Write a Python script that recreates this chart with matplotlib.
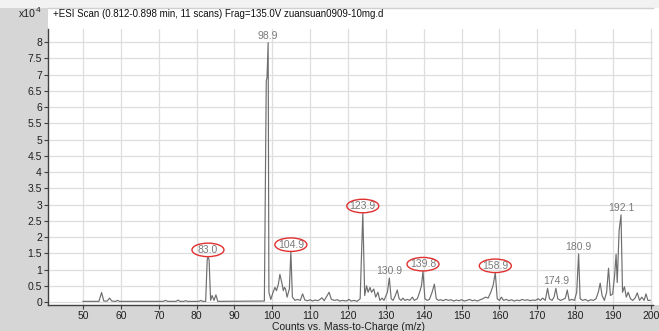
import numpy as np
import matplotlib
matplotlib.use('Agg')
import matplotlib.pyplot as plt
from matplotlib.patches import Ellipse, Rectangle
from matplotlib.transforms import ScaledTranslation

plt.rcParams['font.family'] = ['Liberation Sans', 'DejaVu Sans']

# profile spectrum, vertices of the trace (m/z, counts x10^4)
mz = [50.0, 54.2, 54.9, 55.5, 56.4, 57.0, 57.6, 58.6, 59.1, 59.6,
      71.2, 71.8, 72.4, 74.6, 75.1, 75.6, 76.6, 77.1, 77.6, 80.6, 81.1, 81.6,
      82.4, 82.8, 83.0, 83.3, 83.7, 84.1, 84.6, 85.1, 85.6,
      97.9, 98.4, 98.6, 98.9, 99.1, 99.6, 100.2, 100.7, 101.1, 101.6, 102.0,
      102.5, 102.9, 103.2, 103.5, 103.9, 104.5, 104.9, 105.3, 106.0, 106.6,
      107.4, 108.0, 108.6, 109.3, 110.0, 110.6, 111.3, 112.0, 112.6, 113.1,
      113.7, 114.4, 115.0, 115.6, 116.4, 117.2, 117.8, 118.6, 119.5, 120.3,
      120.8, 121.6, 122.4, 123.2, 123.9, 124.4, 124.9, 125.3, 125.8, 126.2,
      126.8, 127.3, 127.9, 128.4, 129.0, 129.5, 130.4, 130.9, 131.4, 131.9,
      132.5, 133.0, 133.5, 134.0, 134.5, 135.0, 135.7, 136.3, 137.0, 137.5,
      138.3, 138.9, 139.4, 139.8, 140.3, 140.9, 141.5, 142.2, 142.8, 143.3,
      143.9, 144.5, 145.1, 145.8, 146.5, 147.2, 147.9, 148.6, 149.3, 150.0,
      150.7, 151.4, 152.1, 152.8, 153.5, 154.2, 154.9, 155.6, 156.3, 157.0,
      157.7, 158.3, 158.9, 159.4, 160.0, 160.5, 161.1, 161.8, 162.5, 163.2,
      163.9, 164.6, 165.3, 166.0, 166.7, 167.4, 168.1, 168.8, 169.5, 170.2,
      170.8, 171.4, 172.1, 172.7, 173.2, 173.9, 174.4, 174.9, 175.4, 176.1,
      176.8, 177.4, 177.9, 178.4, 179.1, 179.8, 180.4, 180.9, 181.3, 182.0,
      182.7, 183.4, 184.1, 184.8, 185.5, 186.1, 186.6, 187.1, 187.7, 188.3,
      188.8, 189.3, 189.9, 190.4, 190.8, 191.1, 191.6, 192.1, 192.5, 193.0,
      193.5, 194.0, 194.6, 195.2, 195.8, 196.4, 197.0, 197.6, 198.2, 198.7,
      199.2, 199.8]
counts = [0.02, 0.02, 0.29, 0.03, 0.03, 0.12, 0.03, 0.02, 0.05, 0.02,
          0.02, 0.05, 0.02, 0.02, 0.06, 0.02, 0.02, 0.04, 0.02, 0.02, 0.05, 0.02,
          0.02, 1.30, 1.39, 1.30, 0.05, 0.20, 0.05, 0.22, 0.02,
          0.03, 6.80, 6.90, 7.98, 0.30, 0.08, 0.30, 0.45, 0.35, 0.55, 0.85,
          0.60, 0.35, 0.45, 0.40, 0.15, 0.40, 1.55, 0.15, 0.05, 0.08,
          0.05, 0.25, 0.06, 0.04, 0.07, 0.03, 0.06, 0.04, 0.08, 0.13,
          0.04, 0.18, 0.30, 0.08, 0.05, 0.07, 0.03, 0.05, 0.03, 0.08,
          0.03, 0.05, 0.02, 0.10, 2.74, 0.20, 0.50, 0.30, 0.45, 0.30,
          0.40, 0.15, 0.30, 0.05, 0.12, 0.05, 0.30, 0.74, 0.10, 0.05,
          0.20, 0.37, 0.10, 0.05, 0.12, 0.05, 0.08, 0.05, 0.15, 0.05,
          0.10, 0.30, 0.50, 0.95, 0.10, 0.05, 0.08, 0.30, 0.55, 0.10,
          0.05, 0.07, 0.04, 0.08, 0.05, 0.07, 0.03, 0.06, 0.04, 0.07,
          0.03, 0.05, 0.08, 0.04, 0.06, 0.03, 0.07, 0.10, 0.15, 0.12,
          0.30, 0.50, 0.90, 0.10, 0.05, 0.15, 0.05, 0.08, 0.04, 0.07,
          0.03, 0.06, 0.04, 0.08, 0.05, 0.07, 0.04, 0.06, 0.05, 0.10,
          0.05, 0.12, 0.05, 0.42, 0.10, 0.05, 0.15, 0.42, 0.10, 0.05,
          0.08, 0.12, 0.37, 0.05, 0.08, 0.05, 0.30, 1.48, 0.10, 0.05,
          0.08, 0.03, 0.07, 0.05, 0.10, 0.30, 0.58, 0.20, 0.05, 0.30,
          1.04, 0.20, 0.25, 0.80, 1.47, 0.60, 2.20, 2.68, 0.30, 0.47,
          0.15, 0.30, 0.10, 0.05, 0.12, 0.28, 0.05, 0.15, 0.05, 0.25,
          0.05, 0.05]

labels = [83.0, 98.9, 104.9, 123.9, 130.9, 139.8, 158.9, 174.9, 180.9, 192.1]
circled = [83.0, 104.9, 123.9, 139.8, 158.9]

title = '+ESI Scan (0.812-0.898 min, 11 scans) Frag=135.0V zuansuan0909-10mg.d'
xlabel = 'Counts vs. Mass-to-Charge (m/z)'

W, H = 659, 331
fig = plt.figure(figsize=(W / 100, H / 100), dpi=100, facecolor='#d6d6d6')

# white panel behind title and plot
fig.patches.append(Rectangle((48 / W, 1 - 305 / H), (W - 48) / W, (305 - 8) / H,
                             transform=fig.transFigure, facecolor='white',
                             edgecolor='none', zorder=-2))
fig.patches.append(Rectangle((0, 1 - 8 / H), 1, 8 / H, transform=fig.transFigure,
                             facecolor='#f2f2f2', edgecolor='none', zorder=-2))
fig.lines.append(plt.Line2D([48 / W, 653 / W], [1 - 8 / H, 1 - 8 / H],
                            transform=fig.transFigure, color='#d0d0d0', lw=1,
                            zorder=-1))

ax = fig.add_axes([47.5 / W, 26 / H, (653 - 47.5) / W, (305 - 29) / H])
ax.patch.set_alpha(0)
ax.set_xlim(40.62, 200.55)
ax.set_ylim(-0.092, 8.4)

ax.plot(mz, counts, color='#6e6e6e', lw=0.85, zorder=3)

ax.set_xticks(np.arange(50, 201, 10))
ax.set_yticks(np.arange(0, 8.01, 0.5))
ax.set_yticklabels(['%g' % v for v in np.arange(0, 8.01, 0.5)])
ax.grid(color='#dedede', lw=0.9, zorder=0)
ax.set_axisbelow(True)
for s in ['top', 'right']:
    ax.spines[s].set_visible(False)
for s in ['left', 'bottom']:
    ax.spines[s].set_color('#404040')
    ax.spines[s].set_linewidth(1.0)
ax.tick_params(length=3, width=0.8, color='#404040', labelsize=7.5,
               labelcolor='#202020', pad=1)

mz_arr = np.array(mz)
cnt_arr = np.array(counts)
for lab in labels:
    i = np.argmin(np.abs(mz_arr - lab))
    x, y = mz_arr[i], cnt_arr[i]
    ax.annotate('%.1f' % lab, (x, y), xytext=(0, 5), textcoords='offset points',
                ha='center', va='center', fontsize=7.5, color='#7a7a7a', zorder=4)
    if lab in circled:
        tr = fig.dpi_scale_trans + ScaledTranslation(x, y, ax.transData)
        ax.add_patch(Ellipse((0, 5 / 72), 0.32, 0.135, transform=tr, fill=False,
                             edgecolor='#e03030', lw=1.0, zorder=5, clip_on=False))

fig.text(19 / W, 1 - 14 / H, 'x10', fontsize=7.5, va='center', color='#202020')
fig.text(36 / W, 1 - 11 / H, '4', fontsize=6, va='center', color='#202020')
fig.text(53 / W, 1 - 14 / H, title, fontsize=7, va='center', color='#101010')
fig.text(348 / W, 1 - 322 / H, xlabel, fontsize=7.5, ha='center', va='top',
         color='#202020')

fig.savefig('out.png', dpi=100, facecolor=fig.get_facecolor())
